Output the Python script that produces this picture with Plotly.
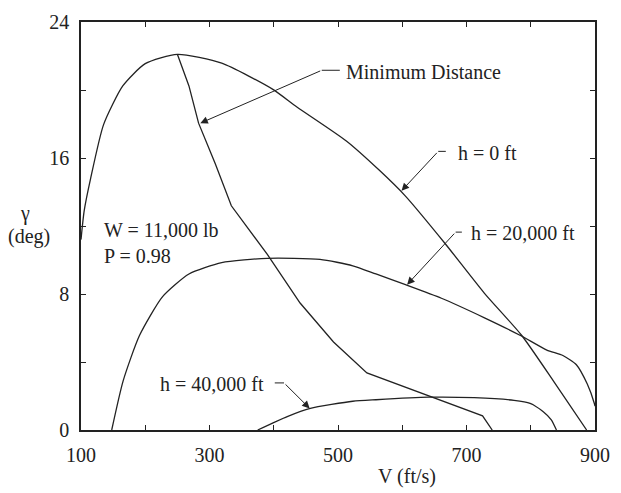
import plotly.graph_objects as go

# ---- data ----
v_h0 = [100, 105, 115, 135, 165, 200, 250, 319, 398, 436, 513, 564, 605, 666, 728, 786, 837, 887]
g_h0 = [11.2, 12.9, 14.8, 17.95, 20.24, 21.55, 22.1, 21.58, 20.05, 19.0, 17.0, 15.29, 13.76, 11.0, 8.04, 5.56, 2.79, 0.0]

v_h20 = [147.8, 165.6, 191, 227, 268, 319, 390, 472, 523, 559, 605, 661, 728, 784, 825, 850, 871, 888, 899, 900]
g_h20 = [0.0, 2.89, 5.56, 7.85, 9.18, 9.85, 10.1, 10.04, 9.66, 9.18, 8.55, 7.75, 6.6, 5.56, 4.7, 4.38, 3.84, 2.7, 1.56, 1.4]

v_h40 = [375, 421, 457, 523, 559, 641, 712, 774, 799, 819.5, 832, 840]
g_h40 = [0.0, 0.79, 1.27, 1.69, 1.78, 1.93, 1.9, 1.74, 1.56, 1.08, 0.6, 0.0]

v_min = [250, 268, 283, 309, 334, 390, 441, 493, 545, 725, 740]
g_min = [22.1, 20.24, 18.05, 15.66, 13.19, 10.33, 7.47, 5.18, 3.36, 0.83, 0.0]

x_ticks = [100, 200, 300, 400, 500, 600, 700, 800, 900]
x_labels = ["100", "", "300", "", "500", "", "700", "", "900"]
y_ticks = [0, 4, 8, 12, 16, 20, 24]
y_labels = ["0", "", "8", "", "16", "", "24"]

FONT = "Liberation Serif"
INK = "#222222"
FS = 20

fig = go.Figure()
for vx, gy, shp in [(v_h0, g_h0, "spline"), (v_h20, g_h20, "spline"),
                    (v_h40, g_h40, "spline"), (v_min, g_min, "linear")]:
    fig.add_trace(go.Scatter(x=vx, y=gy, mode="lines",
                             line=dict(color=INK, width=1.3, shape=shp,
                                       **({"smoothing": 0.6} if shp == "spline" else {})),
                             showlegend=False, hoverinfo="skip"))

# labelled arrows: (text, text_x, text_y, tail_x, tail_y, elbow_x, tip_x, tip_y, side)
labels = [
    ("Minimum Distance", 509.5, 21.04, 474.7, 21.16, 502.8, 285.7, 18.05, "left"),
    ("h = 0 ft", 683.2, 16.29, 656.0, 16.39, 667.8, 598.9, 14.07, "left"),
    ("h = 20,000 ft", 703.5, 11.57, 683.1, 11.64, 692.8, 607.6, 8.55, "left"),
    ("h = 40,000 ft", 387.8, 2.70, 416.0, 2.77, 401.6, 455.9, 1.27, "right"),
]
for txt, tx, ty, ax_, ay_, ex, hx, hy, side in labels:
    fig.add_annotation(x=tx, y=ty, text=txt, showarrow=False,
                       xanchor=side, yanchor="middle",
                       font=dict(family=FONT, size=FS, color=INK))
    fig.add_shape(type="line", x0=ax_, y0=ay_, x1=ex, y1=ay_,
                  line=dict(color=INK, width=1))
    fig.add_annotation(x=hx, y=hy, ax=ax_, ay=ay_, axref="x", ayref="y",
                       text="", showarrow=True, arrowhead=2, arrowsize=1.5,
                       arrowwidth=1, arrowcolor=INK, standoff=0, startstandoff=0)

fig.add_annotation(x=132.5, y=11.76, text="W = 11,000 lb", showarrow=False,
                   xanchor="left", yanchor="middle",
                   font=dict(family=FONT, size=FS, color=INK))
fig.add_annotation(x=132.5, y=10.23, text="P = 0.98", showarrow=False,
                   xanchor="left", yanchor="middle",
                   font=dict(family=FONT, size=FS, color=INK))

# axis titles
fig.add_annotation(xref="paper", yref="paper", x=(412 - 80.5) / 522, y=-(478 - 430.5) / 419.5,
                   text="V (ft/s)", showarrow=False, xanchor="center", yanchor="middle",
                   font=dict(family=FONT, size=FS, color=INK))
fig.add_annotation(xref="paper", yref="paper", x=-(80.5 - 24) / 522, y=(430.5 - 208) / 419.5,
                   text="γ", showarrow=False, xanchor="center", yanchor="middle",
                   font=dict(family=FONT, size=FS, color=INK))
fig.add_annotation(xref="paper", yref="paper", x=-(80.5 - 27.7) / 522, y=(430.5 - 232) / 419.5,
                   text="(deg)", showarrow=False, xanchor="center", yanchor="middle",
                   font=dict(family=FONT, size=FS, color=INK))

axis_common = dict(showline=True, linecolor=INK, linewidth=1.5, mirror="ticks",
                   ticks="inside", ticklen=5, tickwidth=1, tickcolor=INK,
                   showgrid=False, zeroline=False,
                   tickfont=dict(family=FONT, size=FS, color=INK))
fig.update_xaxes(range=[100, 900], tickvals=x_ticks, ticktext=x_labels,
                 ticklabelstandoff=6, **axis_common)
fig.update_yaxes(range=[0, 24], tickvals=y_ticks, ticktext=y_labels,
                 ticklabelstandoff=6, **axis_common)

fig.update_layout(width=621, height=493, autosize=False,
                  margin=dict(l=80.5, r=18.5, t=11, b=62.5),
                  plot_bgcolor="white", paper_bgcolor="white")

fig.write_html("out.html", config={"displayModeBar": False},
               post_script="document.body.style.margin='0';document.body.style.overflow='hidden';")
